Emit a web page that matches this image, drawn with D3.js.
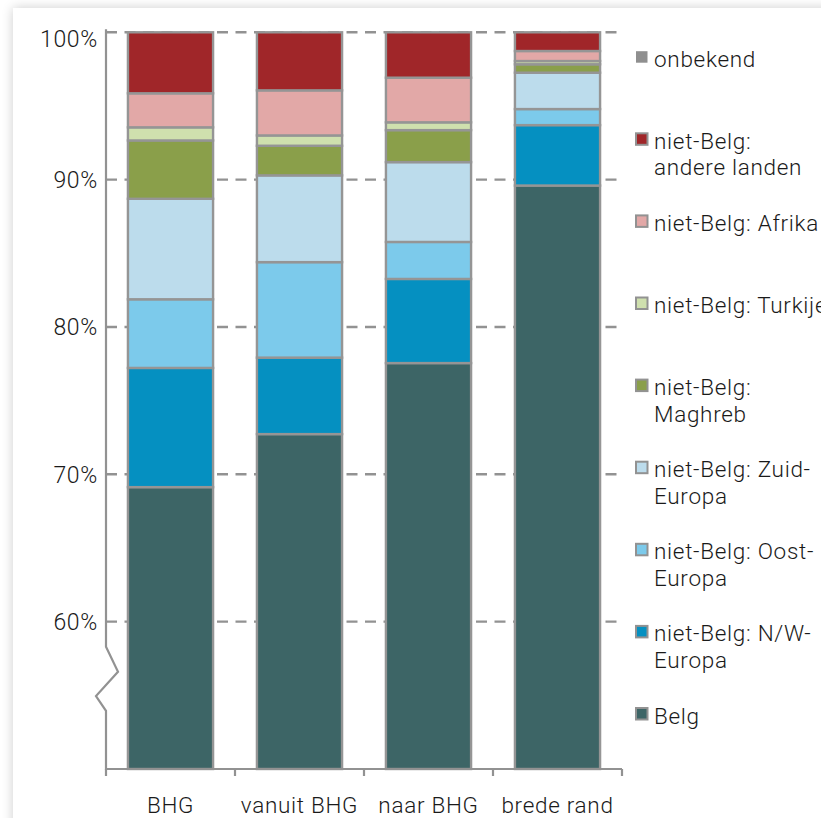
<!DOCTYPE html>
<html>
<head>
<meta charset="utf-8">
<script src="https://cdn.jsdelivr.net/npm/d3@7"></script>
<style>
  body { margin: 0; background: #fff; overflow: hidden; }
  #card { position: absolute; left: 13px; top: 8px; width: 900px; height: 900px;
          background: #fff; box-shadow: 0 0 11px rgba(0,0,0,0.2); }
  #chart { position: absolute; left: 0; top: 0; }
  text { font-family: Roboto, "Liberation Sans", Arial, sans-serif; font-weight: 300; fill: #1a1a1a; letter-spacing: 0.7px; }
</style>
</head>
<body>
<div id="card"></div>
<div id="chart"></div>
<script>
// categories on the x axis
var categories = ["BHG", "vanuit BHG", "naar BHG", "brede rand"];

// series, bottom to top of the stack (percent)
var belg     = [69.13, 72.73, 77.55, 89.60];
var nwEuropa = [8.09, 5.19, 5.71, 4.10];
var oostEur  = [4.66, 6.48, 2.51, 1.09];
var zuidEur  = [6.82, 5.89, 5.42, 2.47];
var maghreb  = [3.96, 2.01, 2.17, 0.57];
var turkije  = [0.89, 0.70, 0.53, 0.22];
var afrika   = [2.31, 3.06, 3.03, 0.68];
var andere   = [4.14, 3.94, 3.08, 1.27];
var onbekend = [0, 0, 0, 0];

var seriesKeys = ["Belg", "N/W-Europa", "Oost-Europa", "Zuid-Europa", "Maghreb", "Turkije", "Afrika", "andere landen", "onbekend"];
var seriesValues = [belg, nwEuropa, oostEur, zuidEur, maghreb, turkije, afrika, andere, onbekend];
var seriesColors = ["#3d6566", "#0590c1", "#7ccaeb", "#bcdcec", "#8a9f4a", "#cfe0ae", "#e2a8a7", "#a02629", "#8f8f8f"];

// legend labels (lines), same order as seriesKeys
var legendLabels = [
  ["Belg"],
  ["niet-Belg: N/W-", "Europa"],
  ["niet-Belg: Oost-", "Europa"],
  ["niet-Belg: Zuid-", "Europa"],
  ["niet-Belg:", "Maghreb"],
  ["niet-Belg: Turkije"],
  ["niet-Belg: Afrika"],
  ["niet-Belg:", "andere landen"],
  ["onbekend"]
];

var yTicks = [60, 70, 80, 90, 100];

var W = 821, H = 818;
var svg = d3.select("#chart").append("svg")
  .attr("width", W)
  .attr("height", H);

// scales
var x = d3.scaleBand()
  .domain(categories)
  .range([106, 622])
  .paddingInner(0.34)
  .paddingOuter(0.17);

var y = d3.scaleLinear()
  .domain([50, 100])
  .range([769, 32.3])
  .clamp(true);

var gridColor = "#929292";

// dashed gridlines
svg.append("g")
  .selectAll("line")
  .data(yTicks)
  .enter()
  .append("line")
  .attr("x1", 106)
  .attr("x2", 624)
  .attr("y1", function(d) { return y(d); })
  .attr("y2", function(d) { return y(d); })
  .attr("stroke", gridColor)
  .attr("stroke-width", 2.4)
  .attr("stroke-dasharray", "11,7.5");

// stacked data
var rows = categories.map(function(c, i) {
  var r = { cat: c };
  seriesKeys.forEach(function(k, j) { r[k] = seriesValues[j][i]; });
  return r;
});
var stacked = d3.stack().keys(seriesKeys)(rows);

svg.append("g")
  .selectAll("g")
  .data(stacked)
  .enter()
  .append("g")
  .attr("fill", function(d, i) { return seriesColors[i]; })
  .selectAll("rect")
  .data(function(d) { return d.filter(function(s) { return s[1] - s[0] > 0; }); })
  .enter()
  .append("rect")
  .attr("x", function(d) { return x(d.data.cat); })
  .attr("width", x.bandwidth())
  .attr("y", function(d) { return y(d[1]); })
  .attr("height", function(d) { return y(d[0]) - y(d[1]); })
  .attr("stroke", "#959595")
  .attr("stroke-width", 2.4);

// y axis line with a break (zigzag)
var ax = 106;
var yAxisPts = [
  [ax, y(100) - 3],
  [ax, y(58.3)],
  [ax + 12, y(56.6)],
  [ax - 10, y(54.95)],
  [ax, y(53.95)],
  [ax, y(50) + 1]
];
svg.append("path")
  .attr("d", d3.line()(yAxisPts))
  .attr("fill", "none")
  .attr("stroke", gridColor)
  .attr("stroke-width", 2.2);

// y tick labels
svg.append("g")
  .selectAll("text")
  .data(yTicks)
  .enter()
  .append("text")
  .attr("x", 98)
  .attr("y", function(d) { return y(d) + (d === 100 ? 6 : 0); })
  .attr("dy", "0.36em")
  .attr("text-anchor", "end")
  .style("font-size", "23px")
  .text(function(d) { return d + "%"; });

// x axis
var xAxis = svg.append("g")
  .attr("transform", "translate(0,769)")
  .call(d3.axisBottom(x).tickSize(0).tickPadding(28));
xAxis.select(".domain")
  .attr("d", "M106,0H622")
  .attr("stroke", gridColor)
  .attr("stroke-width", 2.2);
xAxis.selectAll("text")
  .attr("fill", "#1a1a1a")
  .style("font-size", "22.5px")
  .style("font-family", "Roboto, 'Liberation Sans', Arial, sans-serif");

// tick marks between categories
var boundaries = categories.map(function(c) { return x(c) - x.step() * x.paddingInner() / 2; });
boundaries.push(622);
boundaries[0] = 106;
svg.append("g")
  .selectAll("line")
  .data(boundaries)
  .enter()
  .append("line")
  .attr("x1", function(d) { return d; })
  .attr("x2", function(d) { return d; })
  .attr("y1", 769)
  .attr("y2", 776)
  .attr("stroke", gridColor)
  .attr("stroke-width", 2.2);

// legend (top item = last series)
var legendOrder = d3.range(seriesKeys.length).reverse();
var legend = svg.append("g")
  .selectAll("g")
  .data(legendOrder)
  .enter()
  .append("g")
  .attr("transform", function(d, i) { return "translate(636," + (66.7 + i * 82.1) + ")"; });

legend.append("rect")
  .attr("x", 0)
  .attr("y", -15.5)
  .attr("width", 11.5)
  .attr("height", 11.5)
  .attr("fill", function(d) { return seriesColors[d]; })
  .attr("stroke", "#929292")
  .attr("stroke-width", function(d) { return seriesKeys[d] === "onbekend" ? 0 : 2; });

legend.append("text")
  .attr("x", 18)
  .attr("y", 0)
  .style("font-size", "22.5px")
  .selectAll("tspan")
  .data(function(d) { return legendLabels[d]; })
  .enter()
  .append("tspan")
  .attr("x", 18)
  .attr("y", function(d, i) { return i * 26.5; })
  .text(function(d) { return d; });
</script>
</body>
</html>
